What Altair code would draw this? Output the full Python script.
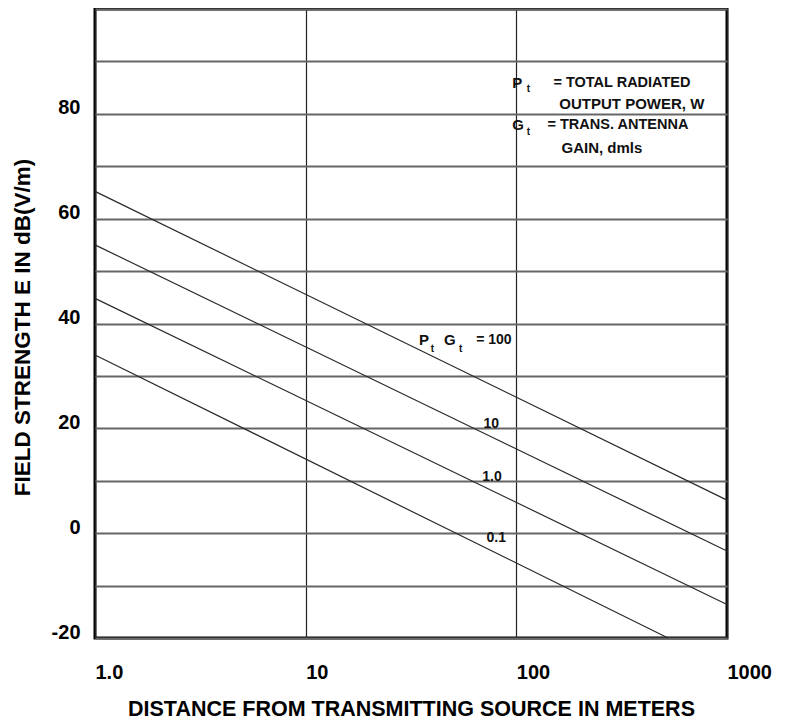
import altair as alt
import pandas as pd

# ---- data ----
pg_labels = ["100", "10", "1.0", "0.1"]
d_start = [1, 1, 1, 1]
e_start = [65.2, 55.0, 44.8, 34.0]
d_end = [1000, 1000, 1000, 525]
e_end = [6.3, -3.4, -13.6, -20.0]

x_tick_values = [1, 10, 100, 1000]
x_tick_labels = ["1.0", "10", "100", "1000"]
y_grid_values = list(range(-20, 101, 10))
y_label_values = [-20, 0, 20, 40, 60, 80]

# annotation texts (placed in data coordinates: distance, dB)
left_texts = ["P", "t", "= TOTAL RADIATED", "OUTPUT POWER, W",
              "G", "t", "= TRANS. ANTENNA", "GAIN, dmls",
              "P", "t", "G", "t", "= 100"]
left_d = [95.7, 112.0, 150, 160,
          95.7, 112.0, 140.6, 163.8,
          34.5, 39.2, 45.4, 53.5, 64.5]
left_e = [85.9, 84.7, 85.9, 81.9,
          77.9, 76.6, 77.9, 73.5,
          36.8, 35.2, 36.8, 35.2, 36.8]
left_size = [15, 10, 14.5, 15,
             15, 10, 14.5, 15,
             15, 10, 15, 10, 14]

center_texts = ["10", "1.0", "0.1"]
center_d = [76.0, 76.7, 80.3]
center_e = [20.9, 10.7, -0.9]
center_size = [14, 14, 14]

# ---- tables ----
rows = []
for lab, ds, es, de, ee in zip(pg_labels, d_start, e_start, d_end, e_end):
    rows.append({"pg": lab, "d": ds, "e": es})
    rows.append({"pg": lab, "d": de, "e": ee})
lines_df = pd.DataFrame(rows)
left_df = pd.DataFrame({"t": left_texts, "d": left_d, "e": left_e, "fs": left_size})
center_df = pd.DataFrame({"t": center_texts, "d": center_d, "e": center_e, "fs": center_size})

FONT = "Arial, Liberation Sans, sans-serif"

x_label_expr = " : ".join(
    [f"datum.value == {v} ? '{l}'" for v, l in zip(x_tick_values, x_tick_labels)]
) + " : ''"
y_label_expr = " : ".join(
    [f"datum.value == {v} ? '{v}'" for v in y_label_values]
) + " : ''"

x_enc = alt.X(
    "d:Q",
    scale=alt.Scale(type="log", domain=[1, 1000], nice=False),
    axis=alt.Axis(
        values=x_tick_values, labelExpr=x_label_expr,
        title="DISTANCE FROM TRANSMITTING SOURCE IN METERS",
        titleX=316, titleY=71, titleBaseline="middle", titleAlign="center",
        titleFontSize=21.5, titleFont=FONT, titleFontWeight="bold", titleColor="black",
        labelFontSize=20, labelFont=FONT, labelFontWeight="bold", labelColor="black",
        labelAlign="left", labelBaseline="middle", labelPadding=34,
        labelFlush=False, labelOverlap=False, labelBound=False,
        ticks=False, tickSize=0, domain=False,
        grid=True, gridColor="#222", gridWidth=1.2,
    ),
)
y_enc = alt.Y(
    "e:Q",
    scale=alt.Scale(domain=[-20, 100], nice=False, zero=False),
    axis=alt.Axis(
        values=y_grid_values, labelExpr=y_label_expr,
        title="FIELD STRENGTH E IN dB(V/m)",
        titleX=-73, titleY=318, titleAngle=270, titleBaseline="middle", titleAlign="center",
        titleFontSize=22.5, titleFont=FONT, titleFontWeight="bold", titleColor="black",
        labelFontSize=20, labelFont=FONT, labelFontWeight="bold", labelColor="black",
        labelAlign="right", labelBaseline="middle", labelPadding=15, labelOffset=-6,
        labelOverlap=False, labelBound=False,
        ticks=False, tickSize=0, domain=False,
        grid=True, gridColor="#666", gridWidth=1.8,
    ),
)

lines = alt.Chart(lines_df).mark_line(color="#2a2a2a", strokeWidth=1.2).encode(
    x=x_enc, y=y_enc, detail="pg:N"
)
left_txt = alt.Chart(left_df).mark_text(
    align="left", baseline="middle", font=FONT, fontWeight="bold", color="#111"
).encode(x=x_enc, y=y_enc, text="t:N", size=alt.Size("fs:Q", scale=None, legend=None))
center_txt = alt.Chart(center_df).mark_text(
    align="center", baseline="middle", font=FONT, fontWeight="bold", color="#111"
).encode(x=x_enc, y=y_enc, text="t:N", size=alt.Size("fs:Q", scale=None, legend=None))

chart = (
    alt.layer(lines, left_txt, center_txt)
    .properties(
        width=632, height=629,
        autosize=alt.AutoSizeParams(type="none"),
        padding={"left": 87, "top": 1, "right": 53, "bottom": 82},
        background="white",
    )
    .configure_view(stroke="black", strokeWidth=3)
)

chart.save("out.html", embed_options={"renderer": "svg", "actions": False})
